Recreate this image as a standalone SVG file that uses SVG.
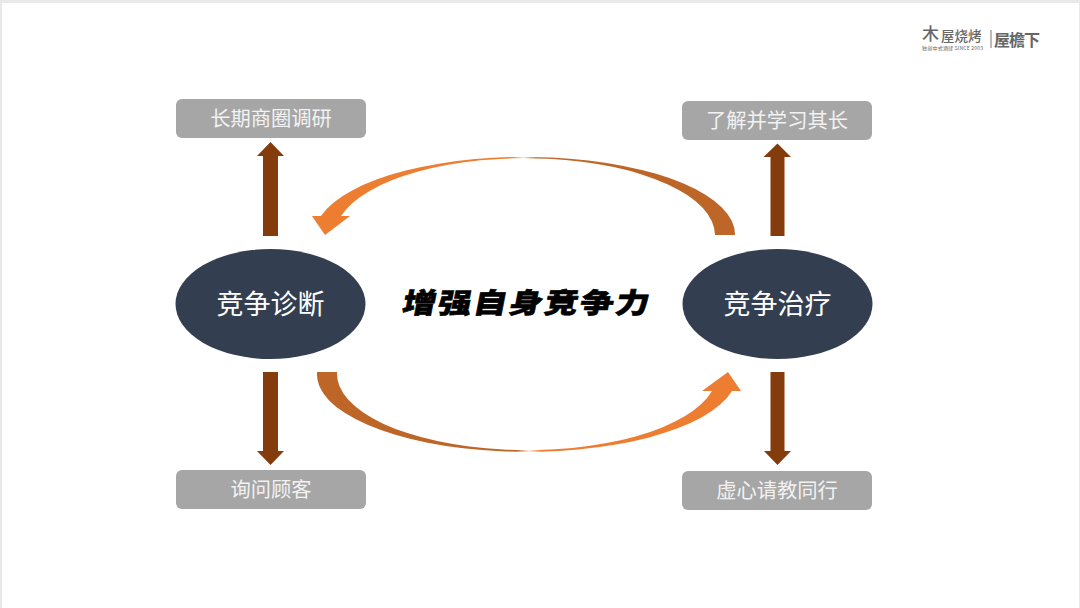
<svg xmlns="http://www.w3.org/2000/svg" width="1080" height="608" viewBox="0 0 1080 608">
<style>
.cjk{font-family:"Noto Sans CJK SC","Liberation Sans",sans-serif}
.box{fill:#A6A6A6}
.bt{fill:#F2F2F2;font-size:20.300px;text-anchor:middle}
.el{fill:#333F50}
.et{fill:#fff;font-size:27px;text-anchor:middle}
.shaft{fill:#843C0C}
.logo{fill:#666;font-family:"Noto Sans CJK SC","Liberation Sans",sans-serif}
</style>
<defs>
<linearGradient id="gt" gradientUnits="userSpaceOnUse" x1="312" y1="0" x2="735" y2="0">
<stop offset="0" stop-color="#ED7D31"/><stop offset="0.47" stop-color="#ED7D31"/><stop offset="0.5" stop-color="#FBE5D6"/><stop offset="0.53" stop-color="#BD6628"/><stop offset="1" stop-color="#BD6628"/>
</linearGradient>
<linearGradient id="gb" gradientUnits="userSpaceOnUse" x1="317" y1="0" x2="741" y2="0">
<stop offset="0" stop-color="#BD6628"/><stop offset="0.47" stop-color="#BD6628"/><stop offset="0.5" stop-color="#FBE5D6"/><stop offset="0.53" stop-color="#ED7D31"/><stop offset="1" stop-color="#ED7D31"/>
</linearGradient>
</defs>
<rect width="1080" height="608" fill="#E9E9E9"/>
<rect x="2" y="3" width="1077" height="605" fill="#fff"/>
<g id="connectors">
<path fill="url(#gt)" d="M735 235A210 77.500 0 0 0 321 216L312 216L325 235L350 216L341 216A190 77 0 0 1 715 235Z"/>
<path fill="url(#gb)" d="M317 372A210 77.500 0 0 0 732 391L741 391L728 372L702 391L712 391A190 76.500 0 0 1 337 372Z"/>
<path class="shaft" d="M263 236V156H257L270.500 142L284 156H278V236Z"/>
<path class="shaft" d="M770.500 236V157H763.500L777.500 143.500L791 157H784.500V236Z"/>
<path class="shaft" d="M263 372V451H257L270.500 465L284 451H278V372Z"/>
<path class="shaft" d="M770.500 372V451H764L777.500 465L791 451H784.500V372Z"/>
</g>
<g id="node-changqi"><rect class="box" x="176" y="99" width="190" height="39" rx="6"/><text class="bt cjk" x="271" y="125.500">长期商圈调研</text></g>
<g id="node-liaojie"><rect class="box" x="682" y="101" width="190" height="39" rx="6"/><text class="bt cjk" x="777" y="127.500">了解并学习其长</text></g>
<g id="node-xunwen"><rect class="box" x="176" y="470" width="190" height="39" rx="6"/><text class="bt cjk" x="271" y="496.500">询问顾客</text></g>
<g id="node-xuxin"><rect class="box" x="682" y="471" width="190" height="39" rx="6"/><text class="bt cjk" x="777" y="497.500">虚心请教同行</text></g>
<g id="node-zhenduan"><ellipse class="el" cx="270.500" cy="304" rx="95" ry="55"/><text class="et cjk" x="270.500" y="314">竞争诊断</text></g>
<g id="node-zhiliao"><ellipse class="el" cx="777.500" cy="304" rx="95" ry="55"/><text class="et cjk" x="777.500" y="314">竞争治疗</text></g>
<g id="center-title"><text class="cjk" transform="translate(401 313) skewX(-11) scale(1.2 1)" font-size="28" font-weight="900" fill="#000" stroke="#000" stroke-width="0.600" letter-spacing="1.600">增强自身竞争力</text></g>
<g id="logo">
<text class="logo" x="922" y="40" font-size="17" font-weight="500">木</text>
<text class="logo" x="941" y="41" font-size="13.500" font-weight="500">屋烧烤</text>
<text class="logo" x="922" y="49.500" font-size="5" textLength="61">独创中式酒肆 SINCE 2003</text>
<rect x="990.500" y="30" width="1" height="18" fill="#777"/>
<text class="logo" x="994" y="46" font-size="16" font-weight="700" textLength="46">屋檐下</text>
</g>
</svg>
